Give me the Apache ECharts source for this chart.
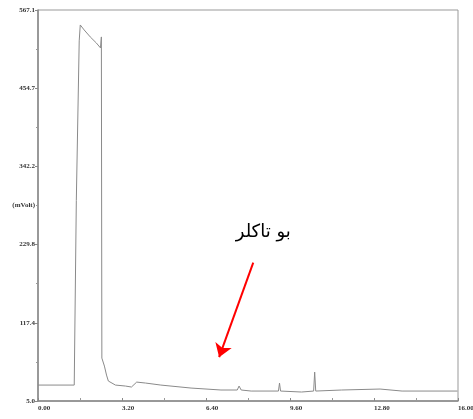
<!DOCTYPE html>
<html>
<head>
<meta charset="utf-8">
<script src="https://cdn.jsdelivr.net/npm/echarts@6/dist/echarts.min.js"></script>
<style>
  html, body { margin: 0; padding: 0; background: #fff; }
  #chart { width: 473px; height: 419px; }
</style>
</head>
<body>
<div id="chart"></div>
<script>
// Retention time (min) and detector signal (mVolt) of the chromatogram trace
const times = [0, 1.38, 1.46, 1.57, 1.61, 1.76, 1.99, 2.22, 2.38, 2.40, 2.414, 2.433, 2.53, 2.61, 2.68, 2.95,
  3.33, 3.56, 3.76, 4.10, 4.68, 5.83, 6.97, 7.59, 7.66, 7.74, 8.12, 9.16, 9.20, 9.24, 10.04, 10.50, 10.54,
  10.58, 11.57, 13.03, 13.87, 15.98];
const signal = [27.9, 27.9, 293.2, 522.7, 545.6, 538.4, 528.4, 519.8, 512.6, 510.8, 528.4, 66.7, 55.2, 42.3, 33.7, 27.9,
  26.5, 25.1, 32.2, 30.8, 27.9, 23.6, 20.8, 20.8, 26.5, 20.8, 19.3, 19.3, 30.8, 19.3, 17.9, 19.3, 46.6,
  19.3, 20.8, 22.2, 19.3, 19.3];

// Axis tick labels
const xTickLabels = ['0.00', '3.20', '6.40', '9.60', '12.80', '16.00'];
const yTickLabels = ['5.0', '117.4', '229.8', '342.2', '454.7', '567.1'];
const yUnit = '(mVolt)';

// Annotation: compound name and the arrow pointing at its retention region
const compoundName = 'بو تاکلر';
const labelAt = [8.58, 247];
const arrowFrom = [8.20, 204];
const arrowTo = [6.90, 68];

const xMin = 0, xMax = 16, xStep = 3.2;
const yMin = 5.0, yMax = 567.1, yStep = (567.1 - 5.0) / 5;

const chart = echarts.init(document.getElementById('chart'));
const tickFont = { fontFamily: 'Liberation Serif', fontWeight: 'bold', fontSize: 7, color: '#333' };

chart.setOption({
  animation: false,
  grid: {
    left: 38, top: 10, right: 15, bottom: 18,
    containLabel: false, outerBoundsMode: 'none',
    show: true, borderColor: '#999', borderWidth: 1, backgroundColor: 'transparent'
  },
  xAxis: {
    type: 'value', min: xMin, max: xMax, interval: xStep,
    axisLine: { show: true, lineStyle: { color: '#888', width: 1.5 } },
    axisTick: { show: true, length: 3, inside: true, lineStyle: { color: '#888' } },
    minorTick: { show: true, splitNumber: 2, length: 3, lineStyle: { color: '#999' } },
    splitLine: { show: false },
    axisLabel: Object.assign({
      align: 'left', margin: 4,
      formatter: (v) => xTickLabels[Math.round(v / xStep)] ?? ''
    }, tickFont)
  },
  yAxis: {
    type: 'value', min: yMin, max: yMax, interval: yStep,
    name: yUnit, nameLocation: 'middle', nameRotate: 0, nameGap: 3,
    nameMoveOverlap: false,
    nameTextStyle: Object.assign({ align: 'right' }, tickFont),
    axisLine: { show: true, lineStyle: { color: '#888', width: 1.5 } },
    axisTick: { show: true, length: 3, lineStyle: { color: '#888' } },
    minorTick: { show: true, splitNumber: 2, length: 2, lineStyle: { color: '#999' } },
    splitLine: { show: false },
    axisLabel: Object.assign({
      margin: 3,
      formatter: (v) => yTickLabels[Math.round((v - yMin) / yStep)] ?? ''
    }, tickFont)
  },
  series: [{
    type: 'line',
    data: times.map((t, i) => [t, signal[i]]),
    showSymbol: false,
    lineStyle: { color: '#8a8a8a', width: 1 },
    markLine: {
      silent: true,
      symbol: ['none', 'arrow'],
      symbolSize: 13,
      lineStyle: { color: '#ff0000', width: 2, type: 'solid' },
      itemStyle: { color: '#ff0000' },
      label: { show: false },
      data: [[{ coord: arrowFrom }, { coord: arrowTo }]]
    },
    markPoint: {
      silent: true,
      symbol: 'circle', symbolSize: 0,
      label: {
        show: true, position: 'inside', formatter: compoundName,
        fontFamily: 'DejaVu Sans', fontSize: 18, color: '#000'
      },
      data: [{ coord: labelAt }]
    }
  }]
});
</script>
</body>
</html>
